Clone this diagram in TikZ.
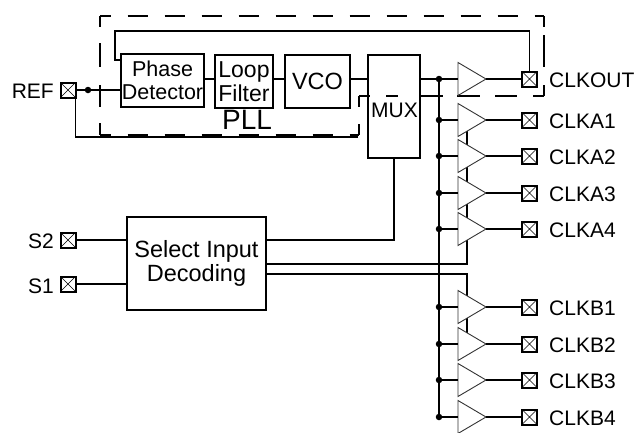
\documentclass[tikz,border=0pt]{standalone}
\usepackage{fontspec}
\setmainfont{Liberation Sans}
\tikzset{
  px/.style={x=1pt,y=-1pt},
  wire/.style={line width=1.7pt,line cap=butt},
  blockbox/.style={draw,line width=1.7pt,fill=white,inner sep=0pt,outer sep=0pt,align=center,anchor=north west},
  pad/.style={draw,line width=2pt,fill=white,minimum size=15pt,inner sep=0pt,outer sep=0pt},
  dotnode/.style={circle,fill=black,inner sep=0pt,minimum size=6.5pt},
  lab/.style={inner sep=0pt,font=\fontsize{21}{21}\selectfont},
  amp/.style={draw=black!80,line width=.9pt,fill=white},
  pll/.style={line width=1.7pt,line cap=square},
  pllrun/.style={pll,dash pattern=on 20pt off 17pt,dash phase=9.5pt},
}
\newcommand{\padx}[3]{\node[pad] (#1) at (#2,#3) {};
  \draw[line width=.5pt] (#1.north west) -- (#1.south east) (#1.north east) -- (#1.south west);}
% name, y : buffer with its output pad, labelled
\newcommand{\ampl}[3]{%
  \coordinate (#1in) at (458,#2);
  \coordinate (#1tip) at (486,#2);
  \coordinate (#1a) at (458,#2-16.5);
  \coordinate (#1b) at (458,#2+16.5);
  \draw[amp] (#1a) -- (#1tip) -- (#1b) -- cycle;
  \padx{#1p}{529.5}{#2}
  \draw[wire] (#1tip) -- (#1p.west);
  \node[dotnode] (#1d) at (439,#2) {};
  \draw[wire] (#1d) -- (#1in);
  \node[lab,anchor=west] (#1l) at (549,#2+1) {#3};
}
\begin{document}
\begin{tikzpicture}[px]
\useasboundingbox (0,0) rectangle (641,432);
\fill[white] (0,0) rectangle (641,432);
% PLL dashed boundary
\draw[pllrun] (100,16) -- (544,16);
\draw[pllrun] (100,135) -- (359,135);
\draw[pll] (100,16) -- (100,27) (100,43) -- (100,67) (100,85) -- (100,107) (100,123) -- (100,135);
\draw[pll] (544,16) -- (544,27) (544,35) -- (544,67) (544,85) -- (544,96);
\draw[pll] (359,96) -- (359,107) (359,124) -- (359,135);
\draw[pll] (359,96) -- (370,96) (386,96) -- (398,96) (420,96) -- (443,96) (457,96) -- (480,96) (495,96) -- (517,96) (533,96) -- (544,96);
% blocks
\node[blockbox,minimum width=83pt,minimum height=53pt,font=\fontsize{21.5}{23}\selectfont] (pd) at (121,54) {Phase\\Detector};
\node[blockbox,minimum width=58pt,minimum height=53pt,font=\fontsize{23}{23.5}\selectfont] (lf) at (215,55) {Loop\\Filter};
\node[blockbox,minimum width=65pt,minimum height=53pt,font=\fontsize{23.5}{25}\selectfont] (vco) at (285,55) {\raisebox{-1.5pt}{VCO}};
\node[draw,line width=1.7pt,outer sep=0pt,minimum width=52pt,minimum height=103pt,inner sep=0pt,anchor=north west] (mux) at (368,55) {};
\node[lab,font=\fontsize{21}{22}\selectfont] (muxl) at (394.5,110.5) {MUX};
\node[blockbox,minimum width=139pt,minimum height=93pt,font=\fontsize{23.5}{23.5}\selectfont] (sel) at (127,217) {Select Input\\Decoding};
\node[inner sep=0pt,font=\fontsize{28}{28}\selectfont] (pll) at (247,119.5) {PLL};
% pads on the left
\padx{ref}{68}{90}
\padx{s2}{68}{240}
\padx{s1}{68}{284}
\node[lab,anchor=east] (refl) at (54,91) {REF};
\node[lab,anchor=east] (s2l) at (54,241) {S2};
\node[lab,anchor=east] (s1l) at (54,286) {S1};
\draw[wire] (s2.east) -- (sel.west |- s2);
\draw[wire] (s1.east) -- (sel.west |- s1);
% reference paths
\draw[wire] (ref.east) -- (pd.west |- ref);
\node[dotnode] (refd) at (88,90) {};
\coordinate (refend) at (358,137);
\draw[wire] (ref.east |- 0,98) -- (ref.east |- 0,137) -- (refend);
% pll chain
\draw[wire] (pd.east |- 0,79) -- (lf.west |- 0,79);
\draw[wire] (lf.east |- 0,79) -- (vco.west |- 0,79);
\draw[wire] (vco.east |- 0,79) -- (mux.west |- 0,79);
% select lines
\draw[wire] (sel.east |- 0,240) -- (394,240) -- (mux.south);
\draw[wire] (sel.east |- 0,264) -- (467,264) -- (467,130);
\draw[wire] (sel.east |- 0,274) -- (467,274) -- (467,335);
% clock bus
\coordinate (bustop) at (439,78);
\coordinate (busbot) at (439,417);
\draw[wire] (bustop) -- (busbot);
% buffers
\ampl{o}{79}{CLKOUT}
\ampl{aa}{120}{CLKA1}
\ampl{ab}{156}{CLKA2}
\ampl{ac}{193}{CLKA3}
\ampl{ad}{229}{CLKA4}
\ampl{ba}{307}{CLKB1}
\ampl{bb}{344}{CLKB2}
\ampl{bc}{380}{CLKB3}
\ampl{bd}{417}{CLKB4}
\draw[wire] (mux.east |- 0,79) -- (od);
% feedback
\draw[wire] (op.north) -- (op.north |- 0,31) -- (115,31) -- (115,60) -- (pd.west |- 0,60);
\end{tikzpicture}
\end{document}
